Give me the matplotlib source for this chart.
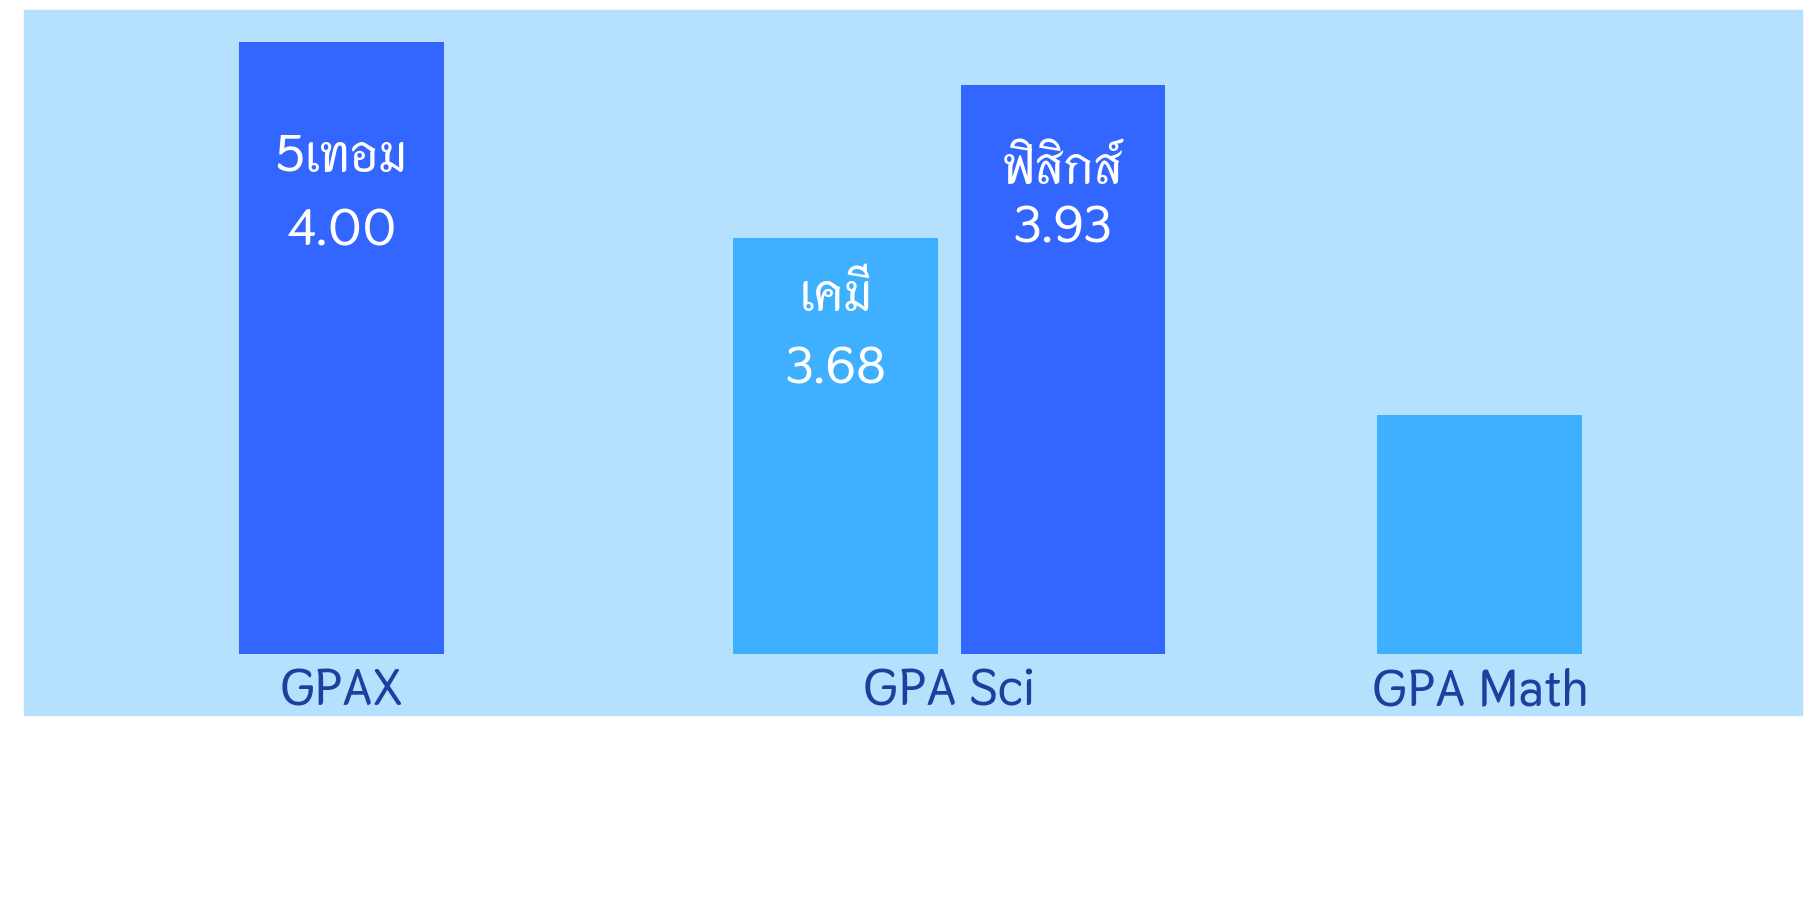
import matplotlib
matplotlib.use("Agg")
import matplotlib.pyplot as plt
from matplotlib.patches import Rectangle

# data
groups = ["GPAX", "GPA Sci", "GPA Math"]
bar_names = ["5เทอม", "เคมี", "ฟิสิกส์", ""]
bar_values = [4.00, 3.68, 3.93, 3.39]
bar_group = [0, 1, 1, 2]

# layout (slot units)
bar_x = [0.0, 2.174, 3.174, 5.008]
bar_colors = ["#3366FF", "#3FAFFF", "#3366FF", "#3FAFFF"]
name_drop = [0.211, 0.118, 0.161, 0]
value_drop = [0.332, 0.2375, 0.257, 0]

plt.rcParams["font.family"] = ["Thasadith", "KoHo", "DejaVu Sans"]
plt.rcParams["font.weight"] = "bold"

fig = plt.figure(figsize=(18.14, 8.97), dpi=100)
W, H = 1814, 897
# light blue panel behind the plot and the category labels
fig.patches.append(Rectangle((24 / W, 1 - 715 / H), 1778 / W, 705 / H,
                             transform=fig.transFigure, color="#B5E0FE", zorder=-1))
ax = fig.add_axes([24 / W, 1 - 654 / H, 1778 / W, 644 / H])
ax.set_facecolor("none")
ax.set_xlim(-1.398, 6.426)
ax.set_ylim(3, 4.052)

ax.bar(bar_x, [v - 3 for v in bar_values], bottom=3, width=0.9, color=bar_colors)

for i, (name, v) in enumerate(zip(bar_names, bar_values)):
    if not name:
        continue
    ax.text(bar_x[i], v - name_drop[i], name, ha="center", va="baseline",
            color="white", fontsize=37)
    ax.text(bar_x[i], v - value_drop[i], f"{v:.2f}", ha="center", va="baseline",
            color="white", fontsize=37)

centers = []
for g in range(len(groups)):
    xs = [bar_x[i] for i in range(len(bar_x)) if bar_group[i] == g]
    centers.append(sum(xs) / len(xs))
ax.set_xticks(centers, groups)
ax.tick_params(axis="x", length=0, pad=10, labelsize=37, labelcolor="#1E3F9E")
ax.set_yticks([])
for s in ax.spines.values():
    s.set_visible(False)

fig.savefig("out.png", dpi=100, facecolor="white")
